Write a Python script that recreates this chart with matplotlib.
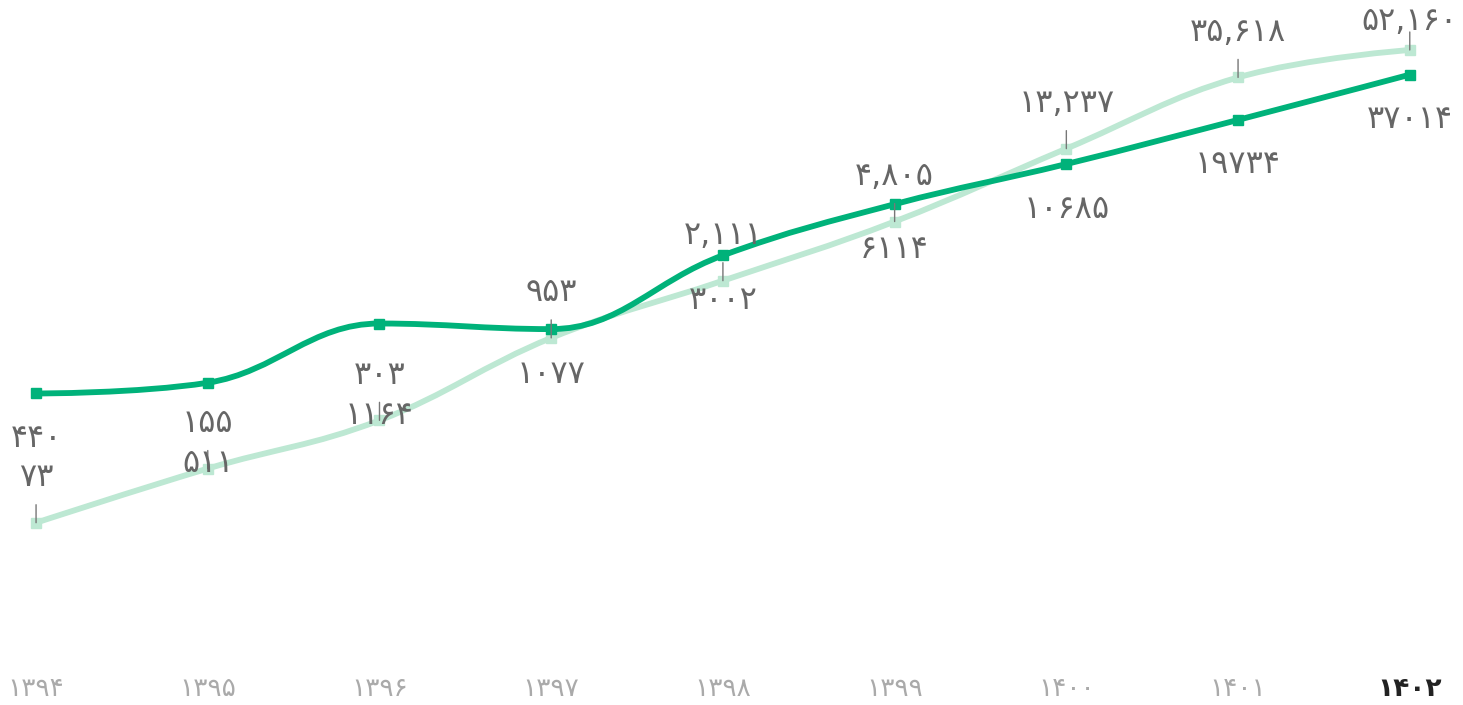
import matplotlib
matplotlib.use("Agg")
import matplotlib.pyplot as plt
from matplotlib.path import Path
from matplotlib.patches import PathPatch
import numpy as np

# data (log scale y)
years = ["۱۳۹۴", "۱۳۹۵", "۱۳۹۶", "۱۳۹۷", "۱۳۹۸", "۱۳۹۹", "۱۴۰۰", "۱۴۰۱", "۱۴۰۲"]
light_vals = [73, 155, 303, 953, 2111, 4805, 13237, 35618, 52160]
dark_vals = [440, 511, 1164, 1077, 3002, 6114, 10685, 19734, 37014]

DARK = "#00b27a"
LIGHT = "#bde8d3"
TXT = "#666666"

FA = str.maketrans("0123456789", "۰۱۲۳۴۵۶۷۸۹")


def fa(n, sep):
    s = f"{n:,}" if sep else str(n)
    return s.translate(FA)


def spline_path(xs, ys, smoothing=1.5):
    # highcharts-like spline, computed in (x, log y) space
    ly = np.log10(ys)
    n = len(xs)
    verts = [(xs[0], ys[0])]
    codes = [Path.MOVETO]
    ctrl = []
    for i in range(n):
        if i == 0 or i == n - 1:
            ctrl.append(((xs[i], ly[i]), (xs[i], ly[i])))
            continue
        d = smoothing + 1
        lx = (smoothing * xs[i] + xs[i - 1]) / d
        lyc = (smoothing * ly[i] + ly[i - 1]) / d
        rx = (smoothing * xs[i] + xs[i + 1]) / d
        ryc = (smoothing * ly[i] + ly[i + 1]) / d
        corr = (ryc - lyc) * (rx - xs[i]) / (rx - lx) + ly[i] - ryc
        lyc += corr
        ryc += corr
        if lyc > max(ly[i - 1], ly[i]):
            lyc = max(ly[i - 1], ly[i]); ryc = 2 * ly[i] - lyc
        elif lyc < min(ly[i - 1], ly[i]):
            lyc = min(ly[i - 1], ly[i]); ryc = 2 * ly[i] - lyc
        if ryc > max(ly[i + 1], ly[i]):
            ryc = max(ly[i + 1], ly[i]); lyc = 2 * ly[i] - ryc
        elif ryc < min(ly[i + 1], ly[i]):
            ryc = min(ly[i + 1], ly[i]); lyc = 2 * ly[i] - ryc
        ctrl.append(((lx, lyc), (rx, ryc)))
    for i in range(1, n):
        c1 = ctrl[i - 1][1]
        c2 = ctrl[i][0]
        verts += [(c1[0], 10 ** c1[1]), (c2[0], 10 ** c2[1]), (xs[i], ys[i])]
        codes += [Path.CURVE4] * 3
    return Path(verts, codes)


fig = plt.figure(figsize=(14.63, 7.05), dpi=100)
ax = fig.add_axes([0, 40 / 705, 1, 665 / 705])
ax.set_yscale("log")
ax.set_xlim(-0.21, 8.31)
ax.set_ylim(10.1, 104500)
for s in ax.spines.values():
    s.set_visible(False)
ax.set_yticks([])
ax.minorticks_off()

x = np.arange(len(years))

ax.add_patch(PathPatch(spline_path(x, light_vals), fill=False, ec=LIGHT, lw=4.2, zorder=2))
ax.plot(x, light_vals, ls="none", marker="s", ms=6.5, color=LIGHT, zorder=2)
ax.add_patch(PathPatch(spline_path(x, dark_vals), fill=False, ec=DARK, lw=4.2, zorder=3))
ax.plot(x, dark_vals, ls="none", marker="s", ms=6.5, color=DARK, zorder=3)

ax.set_xticks(x)
ax.set_xticklabels(years, family="DejaVu Sans", fontsize=19, color="#aaaaaa")
ax.get_xticklabels()[-1].set_color("#222222")
ax.get_xticklabels()[-1].set_fontweight("bold")
ax.tick_params(axis="x", length=0, pad=8)

# value labels: light above with a small connector, dark below
fig_h = 705
for i in range(len(years)):
    lp = ax.transData.transform((x[i], light_vals[i]))[1]
    dp = ax.transData.transform((x[i], dark_vals[i]))[1]
    ll = min(lp + 45, fig_h - 22)
    dl = dp - 45
    if abs(dl - ll) < 35:
        dl = ll - 40
    ax.annotate("", xy=(x[i], light_vals[i]), xytext=(0, 18), textcoords="offset pixels",
                arrowprops=dict(arrowstyle="-", color="#777777", lw=1, shrinkA=0, shrinkB=0),
                zorder=4)
    ax.annotate(fa(light_vals[i], True), xy=(x[i], light_vals[i]), xytext=(0, ll - lp),
                textcoords="offset pixels", ha="center", va="center", fontsize=23,
                color=TXT, family="DejaVu Sans", zorder=5)
    ax.annotate(fa(dark_vals[i], False), xy=(x[i], dark_vals[i]), xytext=(0, dl - dp),
                textcoords="offset pixels", ha="center", va="center", fontsize=23,
                color=TXT, family="DejaVu Sans", zorder=5)

fig.savefig("out.png", dpi=100)
